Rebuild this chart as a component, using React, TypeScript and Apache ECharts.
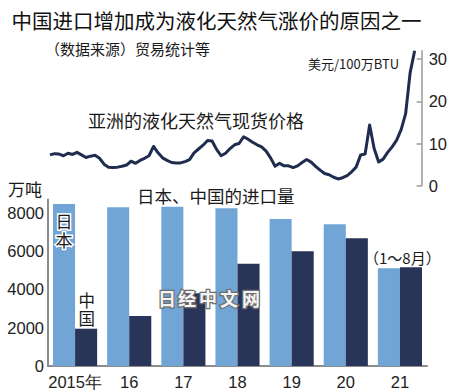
import React, { useEffect, useRef } from "react";
import * as echarts from "echarts";

const years = ["2015年", "16", "17", "18", "19", "20", "21"];
const japanImports = [8470, 8300, 8330, 8250, 7690, 7410, 5110];
const chinaImports = [1950, 2610, 3800, 5350, 6000, 6680, 5160];

const priceYears = [2015, 2016, 2017, 2018, 2019, 2020, 2021];
const spotPrice = [
  7.3, 7.6, 7.5, 7.1, 7.7, 7.4, 7.9, 7.3, 6.7, 7.0, 7.2, 6.5,
  5.1, 4.4, 4.3, 4.4, 4.6, 4.9, 5.8, 5.3, 6.0, 6.5, 7.1, 9.3,
  7.8, 6.6, 6.0, 5.5, 5.4, 5.4, 5.7, 6.2, 7.8, 8.7, 9.6, 10.7,
  10.6, 8.6, 7.1, 7.7, 8.8, 9.7, 10.0, 11.6, 11.0, 10.3, 9.7, 9.2,
  8.2, 6.6, 4.6, 5.3, 4.7, 4.7, 4.3, 4.7, 5.5, 6.2, 5.6, 4.6,
  3.7, 2.9, 2.6, 2.0, 1.6, 1.9, 2.4, 3.3, 4.4, 7.3, 7.5, 14.4,
  8.8, 5.6, 6.3, 7.9, 9.2, 10.8, 13.3, 17.1, 26.8, 32.0,
];
const barTicks = [0, 2000, 4000, 6000, 8000];
const priceTicks = [0, 10, 20, 30];

const months: string[] = [];
priceYears.forEach((y) => {
  for (let m = 1; m <= 12; m++) {
    if (months.length < spotPrice.length) months.push(`${y}-${m}`);
  }
});

const CJK = "'Noto Sans CJK SC', 'Noto Sans', sans-serif";
const NUM = "'Liberation Sans Narrow', 'Arial Narrow', 'Liberation Sans', sans-serif";

const watermark = ["日", "经", "中", "文", "网"];
const watermarkX = [167, 187, 208, 229, 251];

export default function App() {
  const ref = useRef<HTMLDivElement>(null);
  useEffect(() => {
    if (!ref.current) return;
    const chart = echarts.init(ref.current, null, { renderer: "svg" });
    const txt = (text: string, x: number, y: number, size: number, extra: any = {}) => ({
      type: "text",
      x,
      y,
      z: 100,
      style: {
        text,
        font: `${size}px ${CJK}`,
        fill: "#1a1a1a",
        textAlign: "left",
        textVerticalAlign: "middle",
        ...extra,
      },
    });
    chart.setOption({
      animation: false,
      backgroundColor: "#ffffff",
      grid: [
        { left: 48, right: 23, top: 199.6, bottom: 26 },
        { left: 50, right: 35, top: 50.7, bottom: 206.3 },
      ],
      xAxis: [
        {
          gridIndex: 0,
          type: "category",
          data: years,
          axisLine: { lineStyle: { color: "#8c8c8c", width: 2 } },
          axisTick: { show: false },
          axisLabel: { interval: 0, fontSize: 16.5, color: "#222", fontFamily: NUM, margin: 7 },
        },
        {
          gridIndex: 1,
          type: "category",
          data: months,
          boundaryGap: false,
          show: false,
        },
      ],
      yAxis: [
        {
          gridIndex: 0,
          type: "value",
          min: 0,
          max: 8700,
          interval: 2000,
          splitLine: { show: false },
          axisLine: { show: true, lineStyle: { color: "#8c8c8c", width: 2 } },
          axisTick: { show: false },
          axisLabel: {
            customValues: barTicks,
            formatter: (v: number) => String(v),
            fontSize: 16.5,
            color: "#222",
            fontFamily: NUM,
            margin: 4,
          },
        },
        {
          gridIndex: 1,
          type: "value",
          position: "right",
          offset: 7,
          min: 0,
          max: 32,
          interval: 10,
          splitLine: { show: false },
          axisLine: { show: true, lineStyle: { color: "#9a9a9a", width: 1.5 } },
          axisTick: {
            show: true,
            inside: true,
            length: 5,
            customValues: priceTicks,
            lineStyle: { color: "#9a9a9a", width: 1.5 },
          },
          axisLabel: {
            customValues: priceTicks,
            formatter: (v: number) => String(v),
            fontSize: 16.5,
            color: "#222",
            fontFamily: NUM,
            margin: 7,
          },
        },
      ],
      series: [
        {
          name: "日本",
          type: "bar",
          xAxisIndex: 0,
          yAxisIndex: 0,
          data: japanImports,
          barGap: "0%",
          barCategoryGap: "18.5%",
          itemStyle: { color: "#70a5d6" },
        },
        {
          name: "中国",
          type: "bar",
          xAxisIndex: 0,
          yAxisIndex: 0,
          data: chinaImports,
          itemStyle: { color: "#283559" },
        },
        {
          name: "亚洲的液化天然气现货价格",
          type: "line",
          xAxisIndex: 1,
          yAxisIndex: 1,
          data: spotPrice,
          showSymbol: false,
          clip: false,
          lineStyle: { color: "#1f2c50", width: 3, join: "round" },
        },
      ],
      graphic: [
        txt("中国进口增加成为液化天然气涨价的原因之一", 11.5, 20, 20.5, { fill: "#111" }),
        txt("（数据来源）贸易统计等", 45, 48, 15),
        txt("美元/100万BTU", 308, 63, 13),
        txt("亚洲的液化天然气现货价格", 88, 120, 18),
        txt("万吨", 8, 188, 17),
        txt("日本、中国的进口量", 137, 195, 17.5),
        txt("日", 55.5, 220.5, 17, { stroke: "#ffffff", lineWidth: 3 }),
        txt("本", 55.5, 239, 17, { stroke: "#ffffff", lineWidth: 3 }),
        txt("中", 78.5, 299.5, 16.5, { stroke: "#ffffff", lineWidth: 2 }),
        txt("国", 78.5, 318, 16.5, { stroke: "#ffffff", lineWidth: 2 }),
        txt("（1～8月）", 364, 257, 15),
        ...watermark.map((c, i) => ({
          type: "text",
          x: watermarkX[i],
          y: 297.5,
          z: 200,
          style: {
            text: c,
            font: `bold 18px ${CJK}`,
            fill: "#f4f4f4",
            stroke: "#6e6e6e",
            lineWidth: 2.5,
            textAlign: "center",
            textVerticalAlign: "middle",
          },
        })),
      ],
    });
    return () => chart.dispose();
  }, []);
  return (
    <div
      ref={ref}
      style={{ position: "fixed", left: 0, top: 0, width: 450, height: 392, background: "#fff" }}
    />
  );
}
